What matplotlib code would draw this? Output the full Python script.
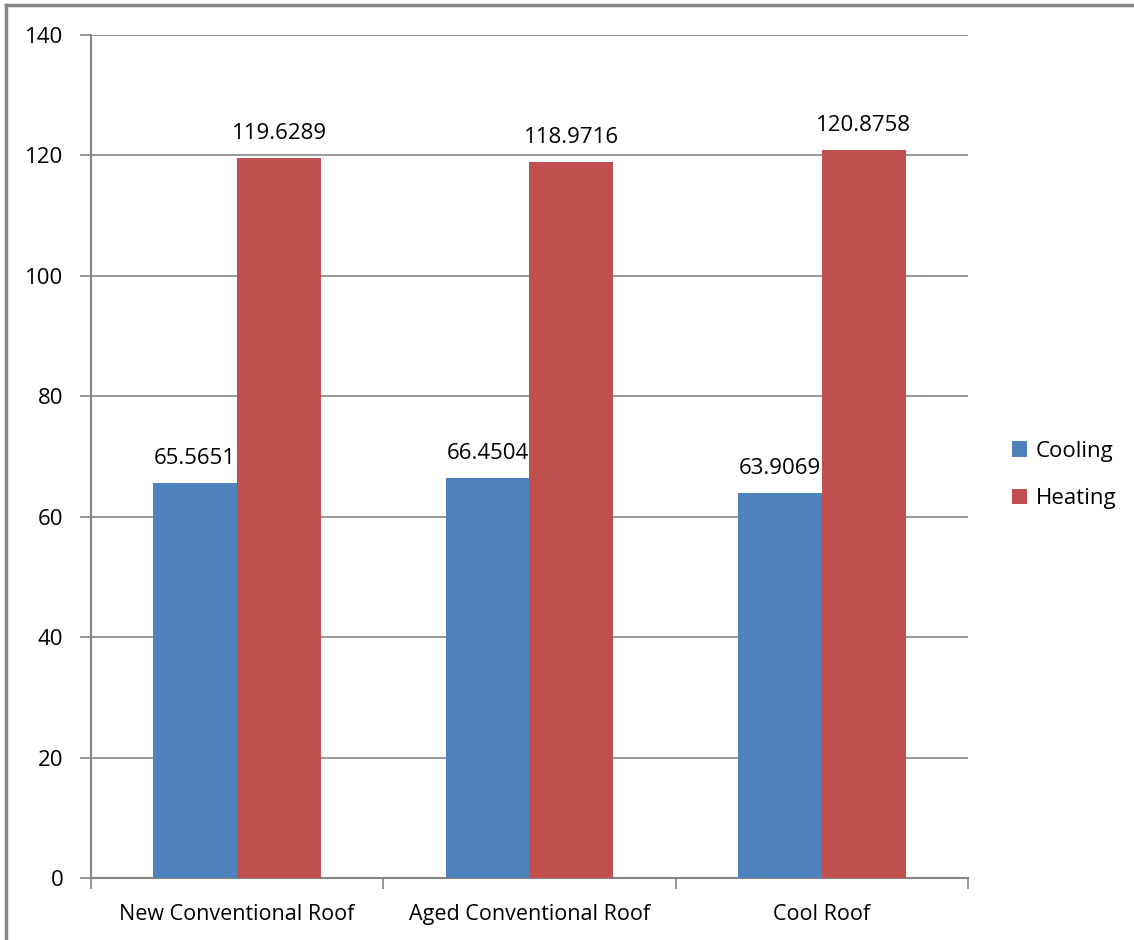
import numpy as np
import matplotlib.pyplot as plt
from matplotlib.lines import Line2D

plt.rcParams['font.family'] = ['Open Sans', 'DejaVu Sans']

roofs = ['New Conventional Roof', 'Aged Conventional Roof', 'Cool Roof']
cooling = [65.5651, 66.4504, 63.9069]
heating = [119.6289, 118.9716, 120.8758]

fig = plt.figure(figsize=(11.34, 9.4), dpi=100)
ax = fig.add_axes([0.0802, 0.066, 0.7734, 0.8968])

x = np.arange(len(roofs))
w = 0.287
b1 = ax.bar(x - w/2, cooling, w, color='#4F81BD', label='Cooling', zorder=3)
b2 = ax.bar(x + w/2, heating, w, color='#C0504D', label='Heating', zorder=3)

for bars, vals in [(b1, cooling), (b2, heating)]:
    for r, v in zip(bars, vals):
        ax.annotate(f'{v:.4f}', (r.get_x() + r.get_width()/2, v),
                    xytext=(0, 10), textcoords='offset points',
                    ha='center', va='bottom', fontsize=16, zorder=4)

ax.set_xlim(-0.5, 2.5)
ax.set_ylim(0, 140)
ax.set_yticks(range(0, 141, 20))
ax.yaxis.grid(True, color='#868686', linewidth=1.2, zorder=0)

ax.set_xticks(x)
ax.set_xticklabels(roofs)
ax.set_xticks([-0.5, 0.5, 1.5, 2.5], minor=True)
ax.tick_params(axis='x', which='major', length=0, pad=19, labelsize=15.5)
ax.tick_params(axis='x', which='minor', length=8, width=1.2, color='#868686', direction='out')
ax.tick_params(axis='y', length=8, width=1.2, color='#868686', pad=12, labelsize=16)

for s in ['top', 'right']:
    ax.spines[s].set_visible(False)
for s in ['left', 'bottom']:
    ax.spines[s].set_color('#868686')
    ax.spines[s].set_linewidth(1.5)

ax.legend(loc='center left', bbox_to_anchor=(1.027, 0.478), frameon=False,
          fontsize=16, handlelength=0.7, handleheight=0.7, labelspacing=1.2,
          handletextpad=0.4)

# outer frame, only top and left edges fall inside the image
fig.add_artist(Line2D([6/1134, 6/1134], [0, 1 - 5/940], color='#868686', lw=2.5))
fig.add_artist(Line2D([6/1134, 1], [1 - 5/940, 1 - 5/940], color='#868686', lw=2.5))

fig.savefig('out.png', dpi=100)
